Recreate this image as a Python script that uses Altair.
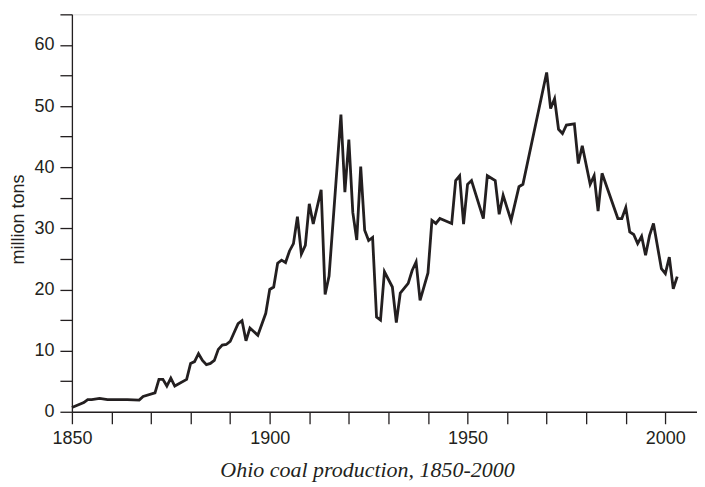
import altair as alt
import pandas as pd

years = [1850, 1853, 1854, 1855, 1857, 1859, 1864, 1867, 1868, 1871,
         1872, 1873, 1874, 1875, 1876, 1879, 1880, 1881, 1882, 1883,
         1884, 1885, 1886, 1887, 1888, 1889, 1890, 1892, 1893, 1894,
         1895, 1897, 1899, 1900, 1901, 1902, 1903, 1904, 1905, 1906,
         1907, 1908, 1909, 1910, 1911, 1913, 1914, 1915, 1918, 1919,
         1920, 1921, 1922, 1923, 1924, 1925, 1926, 1927, 1928, 1929,
         1931, 1932, 1933, 1935, 1936, 1937, 1938, 1940, 1941, 1942,
         1943, 1946, 1947, 1948, 1949, 1950, 1951, 1954, 1955, 1957,
         1958, 1959, 1961, 1963, 1964, 1970, 1971, 1972, 1973, 1974,
         1975, 1977, 1978, 1979, 1981, 1982, 1983, 1984, 1988, 1989,
         1990, 1991, 1992, 1993, 1994, 1995, 1996, 1997, 1999, 2000,
         2001, 2002, 2003]
tons = [0.7, 1.5, 2.0, 2.0, 2.2, 2.0, 2.0, 1.9, 2.5, 3.1,
        5.3, 5.3, 4.2, 5.5, 4.2, 5.3, 7.9, 8.2, 9.5, 8.4,
        7.7, 7.9, 8.4, 10.2, 10.9, 11.0, 11.5, 14.4, 14.9, 11.6,
        13.7, 12.5, 16.1, 20.0, 20.4, 24.3, 24.8, 24.4, 26.3, 27.5,
        31.9, 25.8, 27.2, 34.0, 30.7, 36.3, 19.2, 22.2, 48.6, 35.9,
        44.5, 32.6, 28.1, 40.1, 29.7, 28.0, 28.5, 15.5, 15.0, 22.9,
        20.4, 14.6, 19.4, 21.0, 23.1, 24.5, 18.2, 22.7, 31.3, 30.8,
        31.6, 30.8, 37.8, 38.6, 30.7, 37.2, 37.8, 31.6, 38.6, 37.8,
        32.3, 35.4, 31.3, 36.8, 37.2, 55.5, 49.6, 51.2, 46.2, 45.5,
        46.9, 47.1, 40.6, 43.5, 37.2, 38.6, 32.8, 39.0, 31.6, 31.6,
        33.4, 29.4, 29.0, 27.5, 28.7, 25.6, 28.8, 30.8, 23.4, 22.6,
        25.3, 20.1, 22.1]

x_ticks = list(range(1850, 2001, 10))
y_ticks = list(range(0, 66, 5))
y_title = "million tons"
caption = ["Ohio coal production, 1850-2000"]

ink = "#231f20"
df = pd.DataFrame({"year": years, "tons": tons})
cap_df = pd.DataFrame({"text": caption})

line = alt.Chart(df).mark_line(color=ink, strokeWidth=2.8, strokeJoin="miter").encode(
    x=alt.X("year:Q",
            scale=alt.Scale(domain=[1850, 2008], nice=False, zero=False),
            axis=alt.Axis(values=x_ticks, title=None, grid=False,
                          labelExpr="datum.value % 50 == 0 ? datum.value : ''",
                          format="d", tickSize=12, labelPadding=6,
                          labelFontSize=18, labelFont="Liberation Sans",
                          labelColor=ink, domainColor=ink, tickColor=ink,
                          domainWidth=1.3, tickWidth=1.3, labelFlush=False)),
    y=alt.Y("tons:Q",
            scale=alt.Scale(domain=[0, 65], nice=False),
            axis=alt.Axis(values=y_ticks, title=y_title, grid=False,
                          labelExpr="datum.value % 10 == 0 ? datum.value : ''",
                          tickSize=12, labelPadding=6,
                          labelFontSize=18, labelFont="Liberation Sans",
                          labelColor=ink, domainColor=ink, tickColor=ink,
                          domainWidth=1.3, tickWidth=1.3,
                          titleFont="Liberation Sans", titleFontSize=18,
                          titleFontWeight="normal", titleColor=ink,
                          titleX=-53, titleY=205, titleBaseline="middle")),
)

cap = alt.Chart(cap_df).mark_text(
    font="Liberation Serif", fontStyle="italic", fontSize=22, color=ink,
    align="center", baseline="alphabetic"
).encode(x=alt.value(296), y=alt.value(463), text="text:N")

chart = alt.layer(line, cap).properties(
    width=626, height=398,
    autosize=alt.AutoSizeParams(type="none"),
    padding={"left": 64, "top": 6, "right": 0, "bottom": 70},
).configure_view(stroke=None).configure(background="white")

chart.save("out.html", embed_options={"renderer": "svg", "actions": False})
